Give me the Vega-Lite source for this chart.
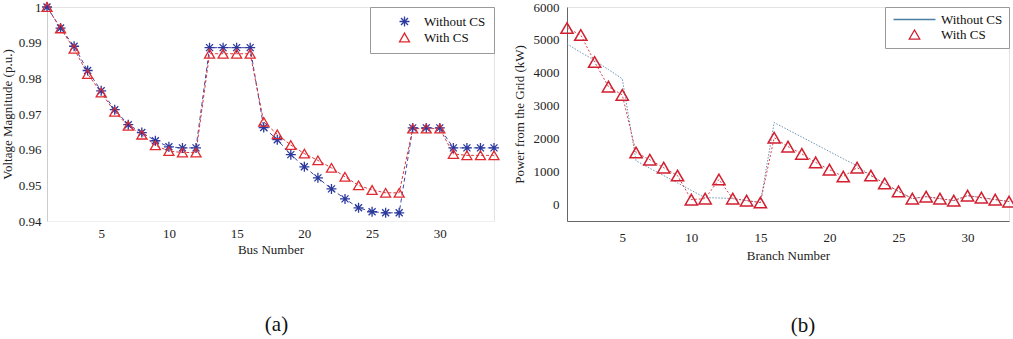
{
  "$schema": "https://vega.github.io/schema/vega-lite/v6.json",
  "background": "white",
  "padding": {"left": 0, "top": -2, "right": 5, "bottom": 0},
  "config": {
    "font": "Liberation Serif",
    "view": {"stroke": "#e3e3e3", "strokeWidth": 1},
    "axis": {
      "labelFont": "Liberation Serif", "titleFont": "Liberation Serif",
      "labelFontSize": 13, "titleFontSize": 13, "titleFontWeight": "normal",
      "labelColor": "#222222", "titleColor": "#222222",
      "grid": false, "ticks": false, "tickSize": 0, "domainColor": "#999999"
    },
    "legend": {
      "labelFont": "Liberation Serif", "labelFontSize": 13, "labelColor": "#111111"
    }
  },
  "datasets": {
    "voltage": [
      {"bus": 1, "series": "Without CS", "v": 1.0},
      {"bus": 2, "series": "Without CS", "v": 0.9941},
      {"bus": 3, "series": "Without CS", "v": 0.9890},
      {"bus": 4, "series": "Without CS", "v": 0.9822},
      {"bus": 5, "series": "Without CS", "v": 0.9765},
      {"bus": 6, "series": "Without CS", "v": 0.9712},
      {"bus": 7, "series": "Without CS", "v": 0.9670},
      {"bus": 8, "series": "Without CS", "v": 0.9648},
      {"bus": 9, "series": "Without CS", "v": 0.9625},
      {"bus": 10, "series": "Without CS", "v": 0.9608},
      {"bus": 11, "series": "Without CS", "v": 0.9605},
      {"bus": 12, "series": "Without CS", "v": 0.9605},
      {"bus": 13, "series": "Without CS", "v": 0.9886},
      {"bus": 14, "series": "Without CS", "v": 0.9886},
      {"bus": 15, "series": "Without CS", "v": 0.9886},
      {"bus": 16, "series": "Without CS", "v": 0.9886},
      {"bus": 17, "series": "Without CS", "v": 0.9662},
      {"bus": 18, "series": "Without CS", "v": 0.9628},
      {"bus": 19, "series": "Without CS", "v": 0.9586},
      {"bus": 20, "series": "Without CS", "v": 0.9552},
      {"bus": 21, "series": "Without CS", "v": 0.9521},
      {"bus": 22, "series": "Without CS", "v": 0.9490},
      {"bus": 23, "series": "Without CS", "v": 0.9462},
      {"bus": 24, "series": "Without CS", "v": 0.9437},
      {"bus": 25, "series": "Without CS", "v": 0.9426},
      {"bus": 26, "series": "Without CS", "v": 0.9423},
      {"bus": 27, "series": "Without CS", "v": 0.9423},
      {"bus": 28, "series": "Without CS", "v": 0.9661},
      {"bus": 29, "series": "Without CS", "v": 0.9661},
      {"bus": 30, "series": "Without CS", "v": 0.9661},
      {"bus": 31, "series": "Without CS", "v": 0.9605},
      {"bus": 32, "series": "Without CS", "v": 0.9605},
      {"bus": 33, "series": "Without CS", "v": 0.9605},
      {"bus": 34, "series": "Without CS", "v": 0.9605},
      {"bus": 1, "series": "With CS", "v": 1.0},
      {"bus": 2, "series": "With CS", "v": 0.9940},
      {"bus": 3, "series": "With CS", "v": 0.9883},
      {"bus": 4, "series": "With CS", "v": 0.9812},
      {"bus": 5, "series": "With CS", "v": 0.9760},
      {"bus": 6, "series": "With CS", "v": 0.9706},
      {"bus": 7, "series": "With CS", "v": 0.9667},
      {"bus": 8, "series": "With CS", "v": 0.9642},
      {"bus": 9, "series": "With CS", "v": 0.9612},
      {"bus": 10, "series": "With CS", "v": 0.9596},
      {"bus": 11, "series": "With CS", "v": 0.9592},
      {"bus": 12, "series": "With CS", "v": 0.9592},
      {"bus": 13, "series": "With CS", "v": 0.9869},
      {"bus": 14, "series": "With CS", "v": 0.9869},
      {"bus": 15, "series": "With CS", "v": 0.9869},
      {"bus": 16, "series": "With CS", "v": 0.9869},
      {"bus": 17, "series": "With CS", "v": 0.9678},
      {"bus": 18, "series": "With CS", "v": 0.9643},
      {"bus": 19, "series": "With CS", "v": 0.9613},
      {"bus": 20, "series": "With CS", "v": 0.9589},
      {"bus": 21, "series": "With CS", "v": 0.9570},
      {"bus": 22, "series": "With CS", "v": 0.9549},
      {"bus": 23, "series": "With CS", "v": 0.9524},
      {"bus": 24, "series": "With CS", "v": 0.9500},
      {"bus": 25, "series": "With CS", "v": 0.9487},
      {"bus": 26, "series": "With CS", "v": 0.9479},
      {"bus": 27, "series": "With CS", "v": 0.9479},
      {"bus": 28, "series": "With CS", "v": 0.9659},
      {"bus": 29, "series": "With CS", "v": 0.9659},
      {"bus": 30, "series": "With CS", "v": 0.9659},
      {"bus": 31, "series": "With CS", "v": 0.9588},
      {"bus": 32, "series": "With CS", "v": 0.9584},
      {"bus": 33, "series": "With CS", "v": 0.9584},
      {"bus": 34, "series": "With CS", "v": 0.9584}
    ],
    "power": [
      {"branch": 1, "series": "Without CS", "p": 4880},
      {"branch": 2, "series": "Without CS", "p": 4620},
      {"branch": 3, "series": "Without CS", "p": 4380},
      {"branch": 4, "series": "Without CS", "p": 4100},
      {"branch": 5, "series": "Without CS", "p": 3820},
      {"branch": 6, "series": "Without CS", "p": 1330},
      {"branch": 7, "series": "Without CS", "p": 1100},
      {"branch": 8, "series": "Without CS", "p": 880},
      {"branch": 9, "series": "Without CS", "p": 660},
      {"branch": 10, "series": "Without CS", "p": 430},
      {"branch": 11, "series": "Without CS", "p": 210},
      {"branch": 12, "series": "Without CS", "p": 200},
      {"branch": 13, "series": "Without CS", "p": 180},
      {"branch": 14, "series": "Without CS", "p": 120},
      {"branch": 15, "series": "Without CS", "p": 60},
      {"branch": 16, "series": "Without CS", "p": 2490},
      {"branch": 17, "series": "Without CS", "p": 2270},
      {"branch": 18, "series": "Without CS", "p": 2050},
      {"branch": 19, "series": "Without CS", "p": 1830},
      {"branch": 20, "series": "Without CS", "p": 1610},
      {"branch": 21, "series": "Without CS", "p": 1390},
      {"branch": 22, "series": "Without CS", "p": 1180},
      {"branch": 23, "series": "Without CS", "p": 880},
      {"branch": 24, "series": "Without CS", "p": 640},
      {"branch": 25, "series": "Without CS", "p": 400},
      {"branch": 26, "series": "Without CS", "p": 180},
      {"branch": 27, "series": "Without CS", "p": 240},
      {"branch": 28, "series": "Without CS", "p": 180},
      {"branch": 29, "series": "Without CS", "p": 120},
      {"branch": 30, "series": "Without CS", "p": 270},
      {"branch": 31, "series": "Without CS", "p": 210},
      {"branch": 32, "series": "Without CS", "p": 150},
      {"branch": 33, "series": "Without CS", "p": 90},
      {"branch": 1, "series": "With CS", "p": 5360},
      {"branch": 2, "series": "With CS", "p": 5150},
      {"branch": 3, "series": "With CS", "p": 4330},
      {"branch": 4, "series": "With CS", "p": 3580},
      {"branch": 5, "series": "With CS", "p": 3330},
      {"branch": 6, "series": "With CS", "p": 1580},
      {"branch": 7, "series": "With CS", "p": 1360},
      {"branch": 8, "series": "With CS", "p": 1120},
      {"branch": 9, "series": "With CS", "p": 880},
      {"branch": 10, "series": "With CS", "p": 150},
      {"branch": 11, "series": "With CS", "p": 180},
      {"branch": 12, "series": "With CS", "p": 760},
      {"branch": 13, "series": "With CS", "p": 180},
      {"branch": 14, "series": "With CS", "p": 120},
      {"branch": 15, "series": "With CS", "p": 60},
      {"branch": 16, "series": "With CS", "p": 2030},
      {"branch": 17, "series": "With CS", "p": 1760},
      {"branch": 18, "series": "With CS", "p": 1540},
      {"branch": 19, "series": "With CS", "p": 1280},
      {"branch": 20, "series": "With CS", "p": 1060},
      {"branch": 21, "series": "With CS", "p": 850},
      {"branch": 22, "series": "With CS", "p": 1120},
      {"branch": 23, "series": "With CS", "p": 880},
      {"branch": 24, "series": "With CS", "p": 640},
      {"branch": 25, "series": "With CS", "p": 400},
      {"branch": 26, "series": "With CS", "p": 180},
      {"branch": 27, "series": "With CS", "p": 240},
      {"branch": 28, "series": "With CS", "p": 180},
      {"branch": 29, "series": "With CS", "p": 120},
      {"branch": 30, "series": "With CS", "p": 270},
      {"branch": 31, "series": "With CS", "p": 210},
      {"branch": 32, "series": "With CS", "p": 150},
      {"branch": 33, "series": "With CS", "p": 90}
    ]
  },
  "spacing": 9,
  "resolve": {
    "scale": {"color": "independent", "shape": "independent", "x": "independent", "y": "independent"},
    "legend": {"color": "independent", "shape": "independent"}
  },
  "hconcat": [
    {
      "width": 447,
      "height": 214,
      "title": {"text": "(a)", "orient": "bottom", "anchor": "middle", "fontSize": 21, "font": "Liberation Serif", "fontWeight": "normal", "color": "#111111", "offset": 58, "dx": 6},
      "data": {"name": "voltage"},
      "encoding": {
        "x": {"field": "bus", "type": "quantitative", "scale": {"domain": [1, 34], "nice": false, "zero": false},
              "axis": {"title": "Bus Number", "values": [5, 10, 15, 20, 25, 30], "labelPadding": 6, "titlePadding": 3, "domainColor": "#eeeeee"}},
        "y": {"field": "v", "type": "quantitative", "scale": {"domain": [0.94, 1.0], "nice": false, "zero": false},
              "axis": {"title": "Voltage Magnitude (p.u.)", "values": [0.94, 0.95, 0.96, 0.97, 0.98, 0.99, 1.0], "format": ".2~f", "labelPadding": 6, "titlePadding": 4, "domainColor": "#cccccc"}}
      },
      "layer": [
        {
          "transform": [{"filter": "datum.series === 'Without CS'"}],
          "mark": {"type": "line", "strokeWidth": 1, "stroke": "#3b45a6", "strokeDash": [4, 3]},
          "encoding": {}
        },
        {
          "transform": [{"filter": "datum.series === 'With CS'"}],
          "mark": {"type": "line", "strokeWidth": 1, "stroke": "#d93a40", "strokeDash": [3, 2]},
          "encoding": {}
        },
        {
          "mark": {"type": "point", "filled": false, "strokeWidth": 1.3, "size": 100, "opacity": 1},
          "encoding": {
            "color": {"field": "series", "type": "nominal", "sort": ["Without CS", "With CS"], "scale": {"domain": ["Without CS", "With CS"], "range": ["#2c3a9e", "#e0282e"]},
                      "legend": {"title": null, "orient": "top-right", "offset": 0, "strokeColor": "#999999", "fillColor": "white", "padding": 8, "rowPadding": 0, "symbolSize": 100, "symbolStrokeWidth": 1.3, "symbolOpacity": 1, "labelOffset": 13, "symbolOffset": 20}},
            "shape": {"field": "series", "type": "nominal", "sort": ["Without CS", "With CS"], "scale": {"domain": ["Without CS", "With CS"], "range": ["M0,-1V1M-1,0H1M-0.7,-0.7L0.7,0.7M-0.7,0.7L0.7,-0.7", "triangle-up"]}}
          }
        }
      ]
    },
    {
      "width": 442,
      "height": 214,
      "title": {"text": "(b)", "orient": "bottom", "anchor": "middle", "fontSize": 21, "font": "Liberation Serif", "fontWeight": "normal", "color": "#111111", "offset": 53, "dx": 15},
      "data": {"name": "power"},
      "encoding": {
        "x": {"field": "branch", "type": "quantitative", "scale": {"domain": [1, 33], "nice": false, "zero": false},
              "axis": {"title": "Branch Number", "values": [5, 10, 15, 20, 25, 30], "labelPadding": 10, "titlePadding": 5, "domainColor": "#666666"}},
        "y": {"field": "p", "type": "quantitative", "scale": {"domain": [-500, 6000], "nice": false, "zero": false},
              "axis": {"title": "Power from the Grid (kW)", "values": [0, 1000, 2000, 3000, 4000, 5000, 6000], "format": "d", "labelPadding": 8, "titlePadding": 7, "domainColor": "#666666"}}
      },
      "layer": [
        {
          "transform": [{"filter": "datum.series === 'Without CS'"}],
          "mark": {"type": "line", "strokeWidth": 1, "stroke": "#6b93b5", "strokeDash": [1.5, 1.5]},
          "encoding": {}
        },
        {
          "transform": [{"filter": "datum.series === 'With CS'"}],
          "mark": {"type": "line", "strokeWidth": 1, "stroke": "#d8434a", "strokeDash": [2, 2]},
          "encoding": {}
        },
        {
          "transform": [{"filter": "datum.series === 'With CS'"}],
          "mark": {"type": "point", "filled": false, "strokeWidth": 1.5, "size": 150, "opacity": 1},
          "encoding": {
            "color": {"field": "series", "type": "nominal", "sort": ["Without CS", "With CS"], "scale": {"domain": ["Without CS", "With CS"], "range": ["#4a7fa6", "#d21f30"]},
                      "legend": {"title": null, "orient": "top-right", "offset": 0, "strokeColor": "#999999", "fillColor": "white", "padding": 6, "rowPadding": 0, "symbolSize": 110, "symbolStrokeWidth": 1.3, "symbolOpacity": 1, "labelOffset": 20, "symbolOffset": 17}},
            "shape": {"field": "series", "type": "nominal", "sort": ["Without CS", "With CS"], "scale": {"domain": ["Without CS", "With CS"], "range": ["M-4,0H4", "triangle-up"]}}
          }
        }
      ]
    }
  ]
}
